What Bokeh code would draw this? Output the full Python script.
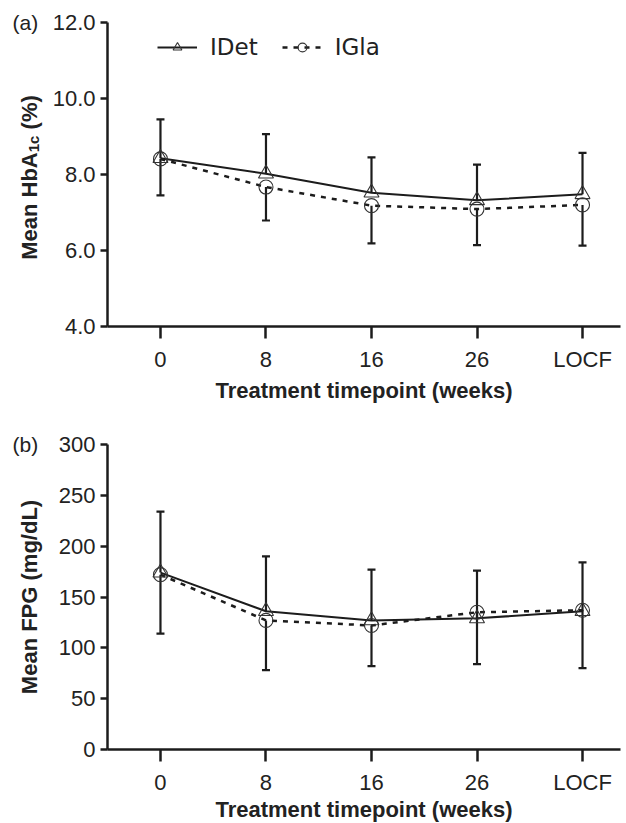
import math
from bokeh.plotting import figure
from bokeh.models import (Range1d, FixedTicker, Legend, LegendItem, Whisker, Label,
                          ColumnDataSource, TeeHead, NumeralTickFormatter)
from bokeh.layouts import column, row
from bokeh.embed import file_html
from bokeh.resources import INLINE

# ---- data ----
weeks = ["0", "8", "16", "26", "LOCF"]

hba1c_idet = [8.43, 8.02, 7.52, 7.32, 7.48]
hba1c_idet_sd = [1.02, 1.04, 0.93, 0.94, 1.09]
hba1c_igla = [8.41, 7.67, 7.18, 7.09, 7.20]
hba1c_igla_sd = [0.96, 0.88, 0.99, 0.95, 1.07]
hba1c_ticks = [4, 6, 8, 10, 12]

fpg_idet = [174, 136, 127, 129, 136]
fpg_idet_sd = [60, 54, 50, 47, 48]
fpg_igla = [172, 127, 122, 135, 137]
fpg_igla_sd = [58, 49, 40, 51, 57]
fpg_ticks = [0, 50, 100, 150, 200, 250, 300]

INK = "#1c1c1c"
TXT = "#222222"
FONT = "Liberation Sans"
SIDE_W = 45
FRAME_W = 513
X_LO, X_HI = -0.502, 4.36
TITLE_X = 29


def make_panel(idet, idet_sd, igla, igla_sd, yticks, yfmt, axis_px, top_px,
               bot_b, xtitle_standoff, legend=False):
    y0, y1 = yticks[0], yticks[-1]
    frame_h = axis_px + top_px
    y_top = y1 + top_px * (y1 - y0) / axis_px
    xs = list(range(len(weeks)))
    src = ColumnDataSource(dict(
        x=xs, idet=idet, igla=igla,
        idet_hi=[m + s for m, s in zip(idet, idet_sd)],
        igla_lo=[m - s for m, s in zip(igla, igla_sd)],
    ))
    p = figure(frame_width=FRAME_W, frame_height=frame_h,
               x_range=Range1d(X_LO, X_HI), y_range=Range1d(y0, y_top),
               output_backend="svg", toolbar_location=None,
               min_border_left=62, min_border_right=6,
               min_border_top=0, min_border_bottom=bot_b)
    p.outline_line_color = None
    p.grid.visible = False

    for ax in (p.xaxis[0], p.yaxis[0]):
        ax.axis_line_width = 2.5
        ax.axis_line_color = INK
        ax.major_tick_line_width = 2.5
        ax.major_tick_line_color = INK
        ax.minor_tick_line_color = None
        ax.major_tick_in = 0
        ax.major_label_text_font = FONT
        ax.major_label_text_font_size = "22px"
        ax.major_label_text_color = TXT
        ax.axis_label_text_font = FONT
        ax.axis_label_text_font_style = "bold"
        ax.axis_label_text_font_size = "22px"
        ax.axis_label_text_color = TXT

    p.xaxis.ticker = FixedTicker(ticks=xs)
    p.xaxis.major_label_overrides = {i: w for i, w in enumerate(weeks)}
    p.xaxis.major_tick_out = 12
    p.xaxis.major_label_standoff = 8
    p.xaxis.axis_label = "Treatment timepoint (weeks)"
    p.xaxis.axis_label_standoff = xtitle_standoff

    p.yaxis.ticker = FixedTicker(ticks=yticks)
    p.yaxis.bounds = (y0, y1)
    if yfmt:
        p.yaxis.formatter = NumeralTickFormatter(format=yfmt)
    p.yaxis.major_tick_out = 7
    p.yaxis.major_label_standoff = 5

    l_igla = p.line("x", "igla", source=src, line_color=INK, line_width=2.5,
                    line_dash="5 6")
    l_idet = p.line("x", "idet", source=src, line_color=INK, line_width=2)

    # error bars: IDet upward, IGla downward
    p.add_layout(Whisker(base="x", lower="idet", upper="idet_hi", source=src,
                         line_color=INK, line_width=2.2,
                         upper_head=TeeHead(size=8, line_width=2.2, line_color=INK),
                         lower_head=None))
    p.add_layout(Whisker(base="x", lower="igla_lo", upper="igla", source=src,
                         line_color=INK, line_width=2.2,
                         lower_head=TeeHead(size=8, line_width=2.2, line_color=INK),
                         upper_head=None))

    m_idet = p.scatter("x", "idet", source=src, marker="triangle", size=15,
                       fill_color=None, line_color="#333333", line_width=1.1)
    m_igla = p.scatter("x", "igla", source=src, marker="circle", size=14,
                       fill_color=None, line_color="#333333", line_width=1.1)

    if legend:
        lg = Legend(items=[LegendItem(label="IDet", renderers=[l_idet, m_idet]),
                           LegendItem(label="IGla", renderers=[l_igla, m_igla])],
                    orientation="horizontal", location=(50, frame_h - 60),
                    glyph_width=40, glyph_height=22, label_standoff=13,
                    spacing=24, padding=0, margin=0,
                    border_line_color=None, background_fill_alpha=0,
                    label_text_font="DejaVu Sans", label_text_font_size="23px",
                    label_text_color=TXT)
        p.add_layout(lg)

    # side strip for panel tag and y-axis title (shares the y scale)
    s = figure(frame_width=SIDE_W, frame_height=frame_h,
               x_range=Range1d(0, SIDE_W), y_range=p.y_range,
               output_backend="svg", toolbar_location=None,
               x_axis_location=None, y_axis_location=None,
               min_border_left=0, min_border_right=0,
               min_border_top=0, min_border_bottom=bot_b)
    s.outline_line_color = None
    s.grid.visible = False
    return p, s, axis_px / 2.0


def tag(s, text, yval):
    s.add_layout(Label(x=12, y=yval, x_units="screen", y_units="data", text=text,
                       text_align="left", text_baseline="middle",
                       text_font=FONT, text_font_size="21px", text_color=TXT))


# ---------- panel (a) ----------
pa, sa, mid_a = make_panel(hba1c_idet, hba1c_idet_sd, hba1c_igla, hba1c_igla_sd,
                           hba1c_ticks, "0.0", 304, 22, 80, 3, legend=True)
tag(sa, "(a)", hba1c_ticks[-1])
# "Mean HbA" + subscript "1c" + " (%)" ; offsets are text advances in px
parts = [("Mean HbA", "22px", 0, 0.0), ("1c", "15px", 4, 107.6), ("(%)", "22px", 0, 130.4)]
start = mid_a - 170.7 / 2
for txt, fs, dx, off in parts:
    sa.add_layout(Label(x=TITLE_X + dx, y=start + off, x_units="screen", y_units="screen",
                        text=txt, angle=math.pi / 2, text_align="left",
                        text_baseline="alphabetic", text_font=FONT,
                        text_font_style="bold", text_font_size=fs, text_color=TXT))

# ---------- panel (b) ----------
pb, sb, mid_b = make_panel(fpg_idet, fpg_idet_sd, fpg_igla, fpg_igla_sd,
                           fpg_ticks, None, 305, 38, 74, -1)
tag(sb, "(b)", fpg_ticks[-1])
sb.add_layout(Label(x=TITLE_X, y=mid_b, x_units="screen", y_units="screen",
                    text="Mean FPG (mg/dL)", angle=math.pi / 2, text_align="center",
                    text_baseline="alphabetic", text_font=FONT,
                    text_font_style="bold", text_font_size="22px", text_color=TXT))

layout = column(row(sa, pa), row(sb, pb))
open("out.html", "w").write(file_html(layout, INLINE))
